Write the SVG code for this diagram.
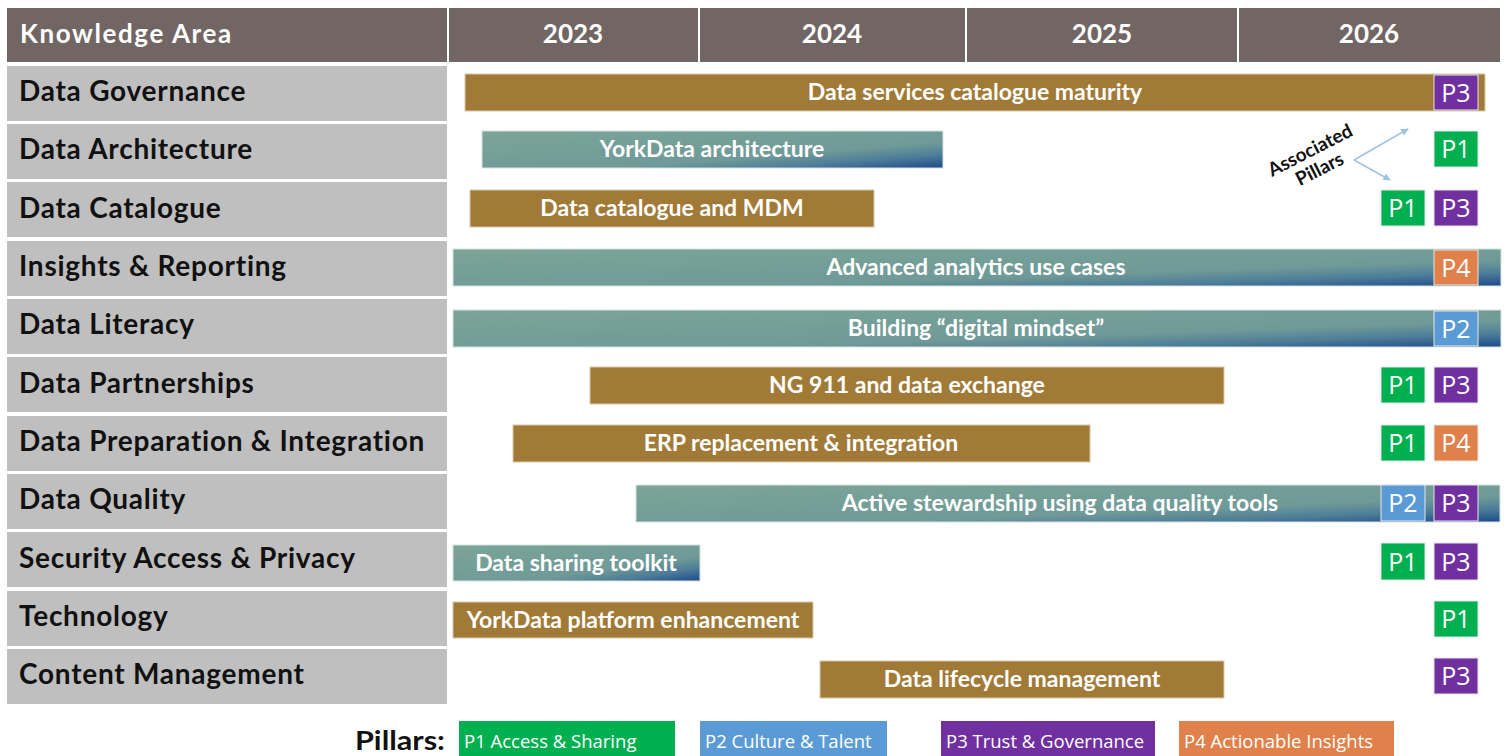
<svg xmlns="http://www.w3.org/2000/svg" width="1507" height="756" viewBox="0 0 1507 756">
<defs>
<linearGradient id="teal" x1="0" y1="0" x2="1" y2="1">
<stop offset="0" stop-color="#7ba597"/>
<stop offset="0.65" stop-color="#6f9a98"/>
<stop offset="0.82" stop-color="#4d7d98"/>
<stop offset="1" stop-color="#1c4a8c"/>
</linearGradient>
<marker id="arr" viewBox="0 0 10 10" refX="9" refY="5" markerWidth="5" markerHeight="5" orient="auto">
<path d="M0,0 L10,5 L0,10 z" fill="#9dc3e6"/>
</marker>
</defs>
<style>
.hdr{fill:#716664}
.htx{font-family:Lato,"Open Sans",sans-serif;font-weight:bold;font-size:26px;fill:#fff}
.row{fill:#bfbfbf}
.rtx{font-family:Lato,"Open Sans",sans-serif;font-weight:bold;font-size:28px;letter-spacing:0.75px;fill:#111}
.brown{fill:#a17a38;stroke:#d9c9a8;stroke-width:1}
.teal{fill:url(#teal);stroke:#d5e3de;stroke-width:1}
.btx{font-family:Lato,"Open Sans",sans-serif;font-weight:bold;font-size:23px;fill:#fff;text-anchor:middle}
.p1{fill:#00b050}.p2{fill:#5b9bd5}.p3{fill:#7030a0}.p4{fill:#e0804a}
.pb{stroke:#e6e6e6;stroke-width:1}
.ptx{font-family:"Open Sans",Lato,sans-serif;font-size:25px;fill:#fff;text-anchor:middle}
.ltx{font-family:"Open Sans",Lato,sans-serif;font-size:18.5px;fill:#fff}
.ann{font-family:Lato,"Open Sans",sans-serif;font-weight:bold;font-size:19px;fill:#111;text-anchor:middle}
</style>
<rect width="1507" height="756" fill="#fff"/>
<g id="header">
<rect class="hdr" x="7" y="8" width="440" height="54"/>
<rect class="hdr" x="449" y="8" width="249" height="54"/>
<rect class="hdr" x="700" y="8" width="265" height="54"/>
<rect class="hdr" x="967" y="8" width="270" height="54"/>
<rect class="hdr" x="1239" y="8" width="261" height="54"/>
<text class="htx" x="20" y="43" font-size="28" letter-spacing="1.6">Knowledge Area</text>
<text class="htx" x="573" y="43" text-anchor="middle">2023</text>
<text class="htx" x="832" y="43" text-anchor="middle">2024</text>
<text class="htx" x="1102" y="43" text-anchor="middle">2025</text>
<text class="htx" x="1369" y="43" text-anchor="middle">2026</text>
</g>
<g id="rows">
<rect class="row" x="7" y="66" width="440" height="55"/><text class="rtx" x="19" y="101">Data Governance</text>
<rect class="row" x="7" y="124" width="440" height="55"/><text class="rtx" x="19" y="159">Data Architecture</text>
<rect class="row" x="7" y="182" width="440" height="55"/><text class="rtx" x="19" y="218">Data Catalogue</text>
<rect class="row" x="7" y="241" width="440" height="55"/><text class="rtx" x="19" y="276">Insights &amp; Reporting</text>
<rect class="row" x="7" y="299" width="440" height="55"/><text class="rtx" x="19" y="334">Data Literacy</text>
<rect class="row" x="7" y="357" width="440" height="55"/><text class="rtx" x="19" y="393">Data Partnerships</text>
<rect class="row" x="7" y="416" width="440" height="55"/><text class="rtx" x="19" y="451">Data Preparation &amp; Integration</text>
<rect class="row" x="7" y="474" width="440" height="55"/><text class="rtx" x="19" y="509">Data Quality</text>
<rect class="row" x="7" y="532" width="440" height="55"/><text class="rtx" x="19" y="568">Security Access &amp; Privacy</text>
<rect class="row" x="7" y="591" width="440" height="55"/><text class="rtx" x="19" y="626">Technology</text>
<rect class="row" x="7" y="649" width="440" height="55"/><text class="rtx" x="19" y="684">Content Management</text>
</g>
<g id="bar-governance">
<rect class="brown" x="465" y="74" width="1020" height="37"/>
<text class="btx" x="975" y="100">Data services catalogue maturity</text>
<rect class="p3 pb" x="1434" y="75" width="44" height="35"/><text class="ptx" x="1456" y="102">P3</text>
</g>
<g id="bar-architecture">
<rect class="teal" x="482" y="131" width="461" height="37"/>
<text class="btx" x="712" y="157">YorkData architecture</text>
<rect class="p1 pb" x="1434" y="131" width="44" height="36"/><text class="ptx" x="1456" y="158">P1</text>
</g>
<g id="bar-catalogue">
<rect class="brown" x="470" y="190" width="404" height="37"/>
<text class="btx" x="672" y="216">Data catalogue and MDM</text>
<rect class="p1 pb" x="1381" y="190" width="44" height="36"/><text class="ptx" x="1403" y="217">P1</text>
<rect class="p3 pb" x="1434" y="190" width="44" height="36"/><text class="ptx" x="1456" y="217">P3</text>
</g>
<g id="bar-insights">
<rect class="teal" x="453" y="249" width="1048" height="37"/>
<text class="btx" x="976" y="275">Advanced analytics use cases</text>
<rect class="p4 pb" x="1434" y="250" width="44" height="35"/><text class="ptx" x="1456" y="277">P4</text>
</g>
<g id="bar-literacy">
<rect class="teal" x="453" y="310" width="1048" height="37"/>
<text class="btx" x="976" y="336">Building “digital mindset”</text>
<rect class="p2 pb" x="1434" y="311" width="44" height="35"/><text class="ptx" x="1456" y="338">P2</text>
</g>
<g id="bar-partnerships">
<rect class="brown" x="590" y="367" width="634" height="37"/>
<text class="btx" x="907" y="393">NG 911 and data exchange</text>
<rect class="p1 pb" x="1381" y="367" width="44" height="36"/><text class="ptx" x="1403" y="394">P1</text>
<rect class="p3 pb" x="1434" y="367" width="44" height="36"/><text class="ptx" x="1456" y="394">P3</text>
</g>
<g id="bar-preparation">
<rect class="brown" x="513" y="425" width="577" height="37"/>
<text class="btx" x="801" y="451">ERP replacement &amp; integration</text>
<rect class="p1 pb" x="1381" y="425" width="44" height="36"/><text class="ptx" x="1403" y="452">P1</text>
<rect class="p4 pb" x="1434" y="425" width="44" height="36"/><text class="ptx" x="1456" y="452">P4</text>
</g>
<g id="bar-quality">
<rect class="teal" x="636" y="485" width="864" height="37"/>
<text class="btx" x="1060" y="511">Active stewardship using data quality tools</text>
<rect class="p2 pb" x="1381" y="485" width="44" height="36"/><text class="ptx" x="1403" y="512">P2</text>
<rect class="p3 pb" x="1434" y="485" width="44" height="36"/><text class="ptx" x="1456" y="512">P3</text>
</g>
<g id="bar-security">
<rect class="teal" x="453" y="545" width="247" height="36"/>
<text class="btx" x="576" y="571">Data sharing toolkit</text>
<rect class="p1 pb" x="1381" y="543" width="44" height="37"/><text class="ptx" x="1403" y="571">P1</text>
<rect class="p3 pb" x="1434" y="543" width="44" height="37"/><text class="ptx" x="1456" y="571">P3</text>
</g>
<g id="bar-technology">
<rect class="brown" x="453" y="602" width="360" height="36"/>
<text class="btx" x="633" y="628">YorkData platform enhancement</text>
<rect class="p1 pb" x="1434" y="601" width="44" height="36"/><text class="ptx" x="1456" y="628">P1</text>
</g>
<g id="bar-content">
<rect class="brown" x="820" y="661" width="404" height="37"/>
<text class="btx" x="1022" y="687">Data lifecycle management</text>
<rect class="p3 pb" x="1434" y="658" width="44" height="36"/><text class="ptx" x="1456" y="685">P3</text>
</g>
<g id="annotation">
<text class="ann" transform="translate(1313,156) rotate(-27)"><tspan x="0" y="0">Associated</tspan><tspan x="0" y="21">Pillars</tspan></text>
</g>
<g id="connectors">
<path d="M1354,160 L1408,129" stroke="#9dc3e6" stroke-width="1.5" fill="none" marker-end="url(#arr)"/>
<path d="M1354,160 L1390,180" stroke="#9dc3e6" stroke-width="1.5" fill="none" marker-end="url(#arr)"/>
</g>
<g id="legend">
<text x="355" y="750" font-family="Lato,'Open Sans',sans-serif" font-weight="bold" font-size="27" fill="#111" textLength="90" lengthAdjust="spacingAndGlyphs">Pillars:</text>
<rect class="p1" x="459" y="721" width="216" height="35"/><text class="ltx" x="464" y="748">P1 Access &amp; Sharing</text>
<rect class="p2" x="700" y="721" width="187" height="35"/><text class="ltx" x="705" y="748">P2 Culture &amp; Talent</text>
<rect class="p3" x="941" y="721" width="214" height="35"/><text class="ltx" x="946" y="748">P3 Trust &amp; Governance</text>
<rect class="p4" x="1179" y="721" width="215" height="35"/><text class="ltx" x="1184" y="748">P4 Actionable Insights</text>
</g>
</svg>
